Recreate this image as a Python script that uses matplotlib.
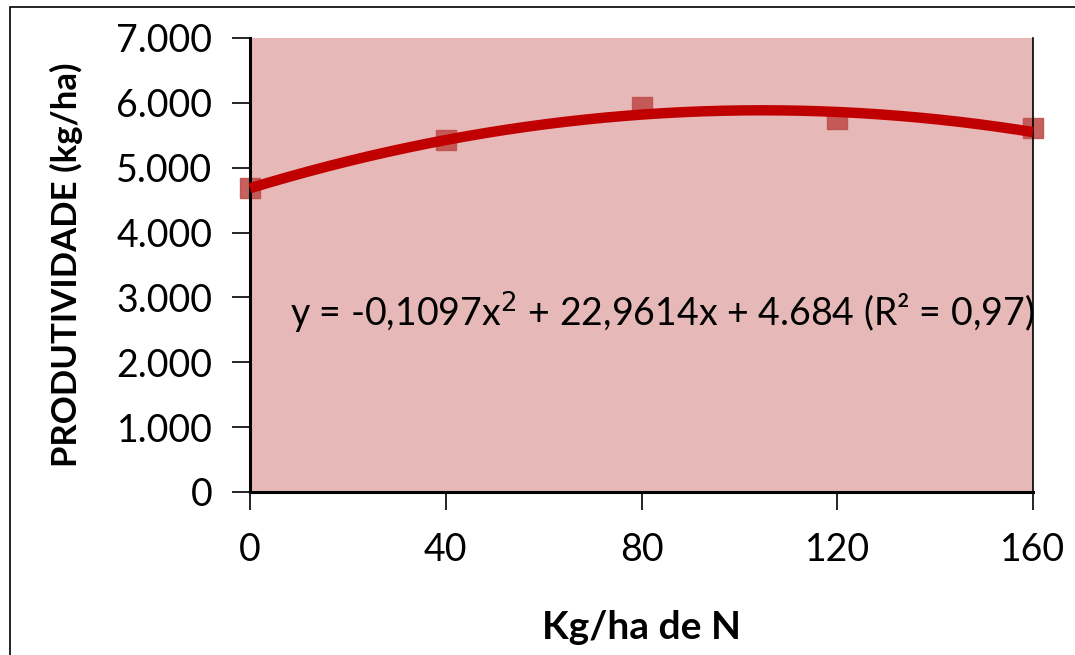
import numpy as np
import matplotlib.pyplot as plt
from matplotlib.patches import Rectangle
from matplotlib.ticker import FuncFormatter

plt.rcParams['font.family'] = ['Lato', 'DejaVu Sans']

# doses de N (kg/ha) e produtividade medida (kg/ha)
doses = [0, 40, 80, 120, 160]
produtividade = [4687, 5435, 5936, 5751, 5605]

# coeficientes da regressao quadratica
coef = [-0.1097, 22.9614, 4684]
r2 = 0.97

yticks = [0, 1000, 2000, 3000, 4000, 5000, 6000, 7000]
xticks = [0, 40, 80, 120, 160]


def milhar(v, pos):
    return '{:,.0f}'.format(v).replace(',', '.')


fig = plt.figure(figsize=(10.75, 6.55), dpi=100)
fig.patches.append(Rectangle((10 / 1075, -0.01), 1.1, 1 - 7 / 655 + 0.01,
                             transform=fig.transFigure, fill=False,
                             edgecolor='black', linewidth=1.2))

ax = fig.add_axes([250 / 1075, 163 / 655, 783 / 1075, 454 / 655])
ax.set_facecolor('#E6B8B7')

ax.plot(doses, produtividade, 's', color='#C0504D', markersize=14,
        alpha=0.9, zorder=2, clip_on=False)

xs = np.linspace(0, 160, 200)
ax.plot(xs, np.polyval(coef, xs), color='#C00000', linewidth=7.5,
        solid_capstyle='butt', zorder=3, clip_on=False)

ax.set_xlim(0, 160)
ax.set_ylim(0, 7000)
ax.set_xticks(xticks)
ax.set_yticks(yticks)
ax.yaxis.set_major_formatter(FuncFormatter(milhar))
ax.tick_params(axis='both', labelsize=27, length=13, width=1.2,
               direction='out', color='black')
ax.tick_params(axis='x', pad=16)
ax.tick_params(axis='y', pad=14)

for side in ['left', 'bottom']:
    ax.spines[side].set_linewidth(2.2)
ax.spines['right'].set_linewidth(1.2)
ax.spines['top'].set_visible(False)

ax.set_xlabel('Kg/ha de N', fontsize=28, fontweight='bold', labelpad=30)
ax.set_ylabel('PRODUTIVIDADE (kg/ha)', fontsize=25, fontweight='bold',
              labelpad=24)

eq = 'y = {:.4f}x$^2$ + {:.4f}x + {:,.0f} (R² = {:.2f})'.format(
    coef[0], coef[1], coef[2], r2)
eq = eq.replace(',', 'X').replace('.', ',').replace('X', '.')
ax.text(0.051, 0.395, eq, transform=ax.transAxes, fontsize=27,
        ha='left', va='center', zorder=4)

fig.savefig('out.png', dpi=100)
